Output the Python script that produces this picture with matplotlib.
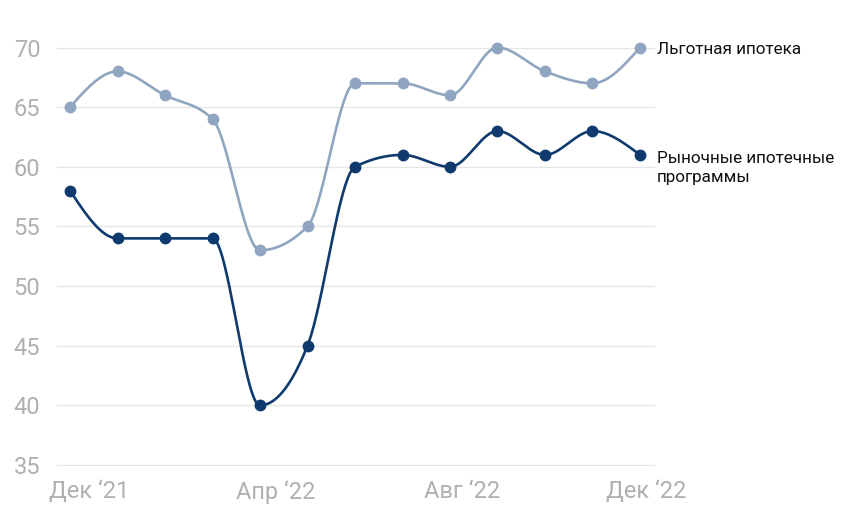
import numpy as np
import matplotlib
matplotlib.use("Agg")
import matplotlib.pyplot as plt

# -------------------------------------------
# Data
# -------------------------------------------

months = np.arange(13)  # Dec '21 .. Dec '22
subsidized = [65, 68, 66, 64, 53, 55, 67, 67, 66, 70, 68, 67, 70]
market = [58, 54, 54, 54, 40, 45, 60, 61, 60, 63, 61, 63, 61]

subsidized_name = "Льготная ипотека"
market_name = "Рыночные ипотечные\nпрограммы"

x_tick_pos = [0.40, 4.33, 8.26, 12.14]
x_tick_labels = ["Дек ‘21", "Апр ‘22", "Авг ‘22", "Дек ‘22"]
y_ticks = [35, 40, 45, 50, 55, 60, 65, 70]

LIGHT = "#8fa5c0"
DARK = "#0f3a6d"
GRID = "#e6e6e6"
TICK = "#b0b0b0"

plt.rcParams['font.family'] = ['Roboto', 'DejaVu Sans']


# -------------------------------------------
# Monotone cubic curve (like d3.curveMonotoneX)
# -------------------------------------------

def monotone_curve(x, y, n=40):
    x = np.asarray(x, float)
    y = np.asarray(y, float)
    h = np.diff(x)
    s = np.diff(y) / h
    m = np.zeros_like(y)
    for i in range(1, len(x) - 1):
        s0, s1 = s[i - 1], s[i]
        p = (s0 * h[i] + s1 * h[i - 1]) / (h[i - 1] + h[i])
        m[i] = (np.sign(s0) + np.sign(s1)) * min(abs(s0), abs(s1), 0.5 * abs(p))
    m[0] = (3 * s[0] - m[1]) / 2
    m[-1] = (3 * s[-1] - m[-2]) / 2

    xs, ys = [], []
    for i in range(len(x) - 1):
        t = np.linspace(0, 1, n)
        h00 = 2 * t**3 - 3 * t**2 + 1
        h10 = t**3 - 2 * t**2 + t
        h01 = -2 * t**3 + 3 * t**2
        h11 = t**3 - t**2
        xs.append(x[i] + t * h[i])
        ys.append(h00 * y[i] + h10 * h[i] * m[i] + h01 * y[i + 1] + h11 * h[i] * m[i + 1])
    return np.concatenate(xs), np.concatenate(ys)


# -------------------------------------------
# Plot
# -------------------------------------------

fig = plt.figure(figsize=(8.6, 5.17), dpi=100)
ax = fig.add_axes([57 / 860, 50.8 / 517, 598 / 860, 430.6 / 517])

for vals, color in [(subsidized, LIGHT), (market, DARK)]:
    cx, cy = monotone_curve(months, vals)
    ax.plot(cx, cy, color=color, lw=1.9, clip_on=False, zorder=3, solid_capstyle='round')
    ax.plot(months, vals, 'o', color=color, ms=7.5, clip_on=False, zorder=4)

ax.annotate(subsidized_name, (months[-1], subsidized[-1]), xytext=(12, -1.5),
            textcoords='offset points', va='center', ha='left',
            fontsize=12.3, color='#111111', annotation_clip=False)
ax.annotate(market_name, (months[-1], market[-1]), xytext=(12, -9.5),
            textcoords='offset points', va='center', ha='left',
            fontsize=12.3, color='#111111', annotation_clip=False, linespacing=1.3)

ax.set_xlim(-0.274, 12.316)
ax.set_ylim(34.9, 71)
ax.set_yticks(y_ticks)
ax.set_yticklabels([str(v) for v in y_ticks])
ax.set_xticks(x_tick_pos)
ax.set_xticklabels(x_tick_labels)
ax.tick_params(axis='y', length=0, pad=12, labelsize=17, labelcolor=TICK)
ax.tick_params(axis='x', length=0, pad=10, labelsize=17, labelcolor=TICK)
ax.grid(axis='y', color=GRID, lw=1)
ax.set_axisbelow(True)
for sp in ax.spines.values():
    sp.set_visible(False)

fig.savefig("out.png", dpi=100)
